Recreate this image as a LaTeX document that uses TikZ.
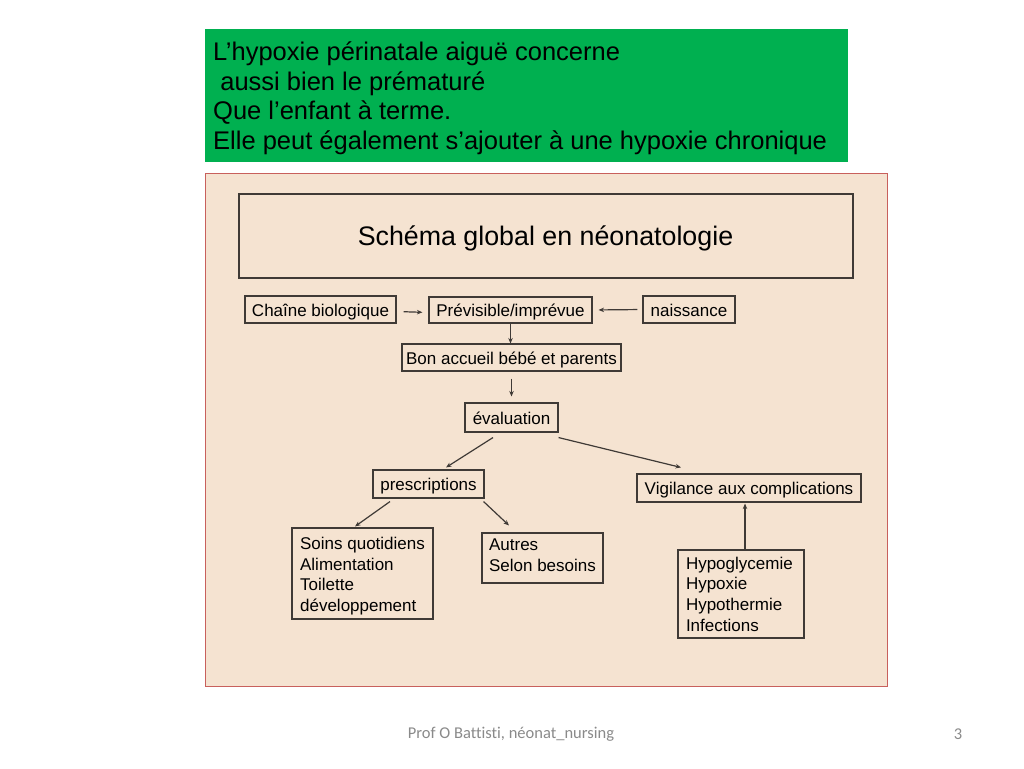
\documentclass[tikz,border=0pt]{standalone}
\usepackage{fontspec}
\setmainfont{Liberation Sans}
\newfontfamily\footfont[Ligatures=NoCommon]{Carlito}
\usetikzlibrary{arrows.meta}
\definecolor{slidegreen}{HTML}{00B050}
\definecolor{peach}{HTML}{F5E3D1}
\definecolor{peachborder}{HTML}{C8605C}
\definecolor{boxline}{HTML}{3F3A36}
\definecolor{footgray}{HTML}{8A8A8A}
\tikzset{
  box/.style={draw=boxline, line width=1.1pt, inner sep=0pt, font=\fontsize{17}{20.7}\selectfont},
  onebox/.style={box, text height=15pt, text depth=2pt},
  multibox/.style={box, align=left},
  arr/.style={draw=boxline, line width=1.2pt, -{Stealth[length=5.5pt,width=4.5pt]}},
}
\begin{document}
\begin{tikzpicture}[x=1pt,y=-1pt]
\useasboundingbox[fill=white] (0,0) rectangle (1024,768);
% green header
\node[fill=slidegreen, minimum width=643pt, minimum height=133pt, inner sep=0pt] (green) at (526.5,95.5) {};
\node[anchor=west, inner sep=0pt, align=left, font=\fontsize{25.5}{29.5}\selectfont] (greentext) at (213,98.5)
 {L’hypoxie périnatale aiguë concerne\\
  \hspace*{0.28em}aussi bien le prématuré\\
  Que l’enfant à terme.\\
  Elle peut également s’ajouter à une hypoxie chronique};
% peach panel
\node[fill=peach, draw=peachborder, line width=1pt, minimum width=682pt, minimum height=513pt, inner sep=0pt] (panel) at (546,429.5) {};
% title
\node[box, minimum width=614pt, minimum height=84pt] (title) at (546,236) {};
\node[inner sep=0pt, font=\fontsize{26.8}{30}\selectfont] (titletext) at (545.5,238.5) {Schéma global en néonatologie};
% nodes
\node[onebox, minimum width=151pt, minimum height=27pt] (chaine) at (320.5,309.5) {Chaîne biologique};
\node[onebox, minimum width=163pt, minimum height=26pt] (prev) at (510.5,310) {Prévisible/imprévue};
\node[onebox, minimum width=92pt, minimum height=27pt] (naiss) at (689,309.5) {naissance};
\node[onebox, minimum width=219pt, minimum height=27pt] (bon) at (511.5,357.5) {Bon accueil bébé et parents};
\node[onebox, minimum width=93pt, minimum height=29pt] (eval) at (511.5,417.5) {évaluation};
\node[onebox, minimum width=111pt, minimum height=28pt] (presc) at (428.5,484) {prescriptions};
\node[onebox, minimum width=224pt, minimum height=28pt] (vig) at (749,488) {Vigilance aux complications};
\node[multibox, minimum width=141pt, minimum height=91pt] (soins) at (362.5,573.5)
 {\rule{0pt}{17.5pt}Soins quotidiens\\Alimentation\\Toilette\\développement};
\node[multibox, minimum width=121pt, minimum height=50pt] (autres) at (542.5,558)
 {Autres\\Selon besoins\rule[-6pt]{0pt}{6pt}};
\node[multibox, minimum width=126pt, minimum height=88pt, text width=110pt] (hypo) at (741,594)
 {Hypoglycemie\\Hypoxie\\Hypothermie\\Infections};
% connectors
\draw[arr, shorten <=7pt, shorten >=6pt] ([yshift=-2pt]chaine.east) -- ([yshift=-2.5pt]prev.west);
\draw[arr, shorten <=5pt, shorten >=6pt] (naiss.west) -- (prev.east);
\draw[arr] (prev.south) -- (prev.south |- bon.north);
\draw[arr, shorten <=7pt, shorten >=6pt] (bon.south) -- (bon.south |- eval.north);
\draw[arr] ([xshift=-18.5pt,yshift=-5pt]eval.south) -- ([xshift=17.5pt,yshift=2pt]presc.north);
\draw[arr] ([yshift=-5pt]eval.south east) -- ([xshift=-68pt,yshift=6pt]vig.north);
\draw[arr] ([xshift=-38.5pt,yshift=-3pt]presc.south) -- ([xshift=-7.5pt,yshift=1pt]soins.north);
\draw[arr] ([xshift=-1pt,yshift=-3pt]presc.south east) -- ([xshift=-33.5pt,yshift=7pt]autres.north);
\draw[arr] ([xshift=4pt]hypo.north) -- ([xshift=-4pt,yshift=-1pt]vig.south);
% footer
\node[font=\footfont\fontsize{16.5}{19}\selectfont, text=footgray, inner sep=0pt] (footer) at (511,734) {Prof O Battisti, néonat\_nursing};
\node[font=\footfont\fontsize{16.5}{19}\selectfont, text=footgray, inner sep=0pt] (pagenum) at (958,734) {3};
\end{tikzpicture}
\end{document}
